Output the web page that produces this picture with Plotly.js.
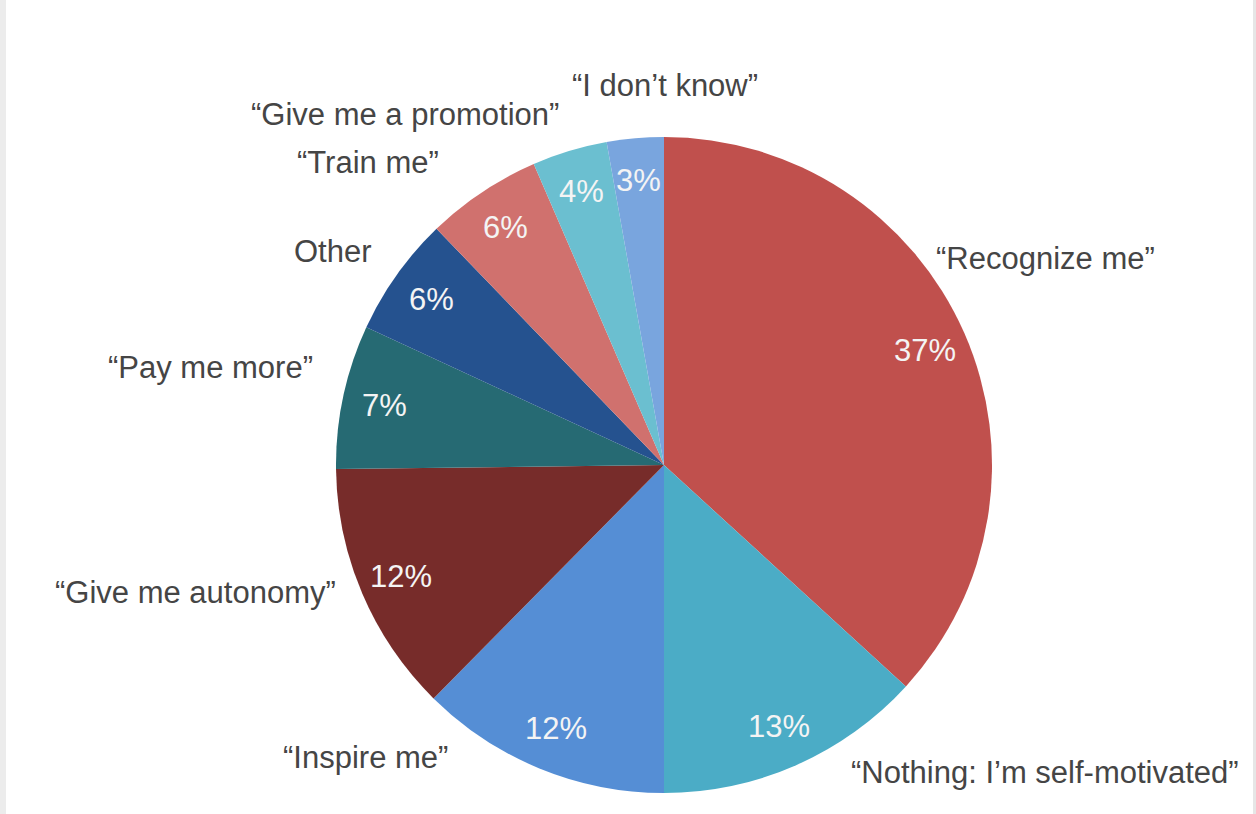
<!DOCTYPE html>
<html>
<head>
<meta charset="utf-8">
<script src="https://cdn.plot.ly/plotly-3.0.1.min.js"></script>
<style>
html,body{margin:0;padding:0;background:#fff;}
#chart{width:1256px;height:814px;}
</style>
</head>
<body>
<div id="chart"></div>
<script>
// ---- data ----
const categories = [
  "“Recognize me”",
  "“Nothing: I’m self-motivated”",
  "“Inspire me”",
  "“Give me autonomy”",
  "“Pay me more”",
  "Other",
  "“Train me”",
  "“Give me a promotion”",
  "“I don’t know”"
];
// shares (%); labels show them rounded
const values = [36.8, 13.2, 12.4, 12.4, 7.1, 5.9, 5.7, 3.7, 2.8];
const colors = ["#C0504D", "#4BACC6", "#558ED5", "#772C2A", "#266A73",
                "#25528F", "#D0716E", "#6BBFD0", "#79A5DE"];

// ---- layout geometry (pixels) ----
const W = 1256, H = 814;
const CX = 664, CY = 465, R = 328;
// outside label centres in pixels
const labelPos = [
  [1045, 258], [1045, 772], [365, 757], [195, 592], [210, 368],
  [333, 251], [368, 163], [405, 114], [665, 85]
];
const pctRadius = 0.87;
const font = "'Liberation Sans Narrow', 'Arial Narrow', 'Liberation Sans', Arial, sans-serif";

const px2x = x => x / W;
const px2y = y => 1 - y / H;

const total = values.reduce((a, b) => a + b, 0);
const annotations = [];
let cum = 0;
values.forEach((v, i) => {
  const mid = (cum + v / 2) / total * 2 * Math.PI;
  cum += v;
  const x = CX + pctRadius * R * Math.sin(mid);
  const y = CY - pctRadius * R * Math.cos(mid);
  annotations.push({
    x: px2x(x), y: px2y(y), xref: 'paper', yref: 'paper',
    text: Math.round(v / total * 100) + '%', showarrow: false,
    xanchor: 'center', yanchor: 'middle',
    font: {family: font, size: 31, color: '#F4F4F4'}
  });
  annotations.push({
    x: px2x(labelPos[i][0]), y: px2y(labelPos[i][1]), xref: 'paper', yref: 'paper',
    text: categories[i], showarrow: false, xanchor: 'center', yanchor: 'middle',
    font: {family: font, size: 31, color: '#454545'}
  });
});

const trace = {
  type: 'pie',
  labels: categories,
  values: values,
  sort: false,
  direction: 'clockwise',
  rotation: 0,
  textinfo: 'none',
  hoverinfo: 'label+percent',
  marker: {colors: colors, line: {width: 0}},
  domain: {x: [px2x(CX - R), px2x(CX + R)], y: [px2y(CY + R), px2y(CY - R)]},
  showlegend: false
};

const layout = {
  width: W, height: H,
  margin: {l: 0, r: 0, t: 0, b: 0},
  paper_bgcolor: '#FFFFFF',
  showlegend: false,
  annotations: annotations,
  shapes: [
    {type: 'rect', xref: 'paper', yref: 'paper', x0: 0, x1: px2x(6), y0: 0, y1: 1,
     fillcolor: '#ECECEC', line: {width: 0}},
    {type: 'rect', xref: 'paper', yref: 'paper', x0: px2x(1253), x1: 1, y0: 0, y1: 1,
     fillcolor: '#E6E6E6', line: {width: 0}}
  ]
};

Plotly.newPlot('chart', [trace], layout, {displayModeBar: false, staticPlot: true});
</script>
</body>
</html>
